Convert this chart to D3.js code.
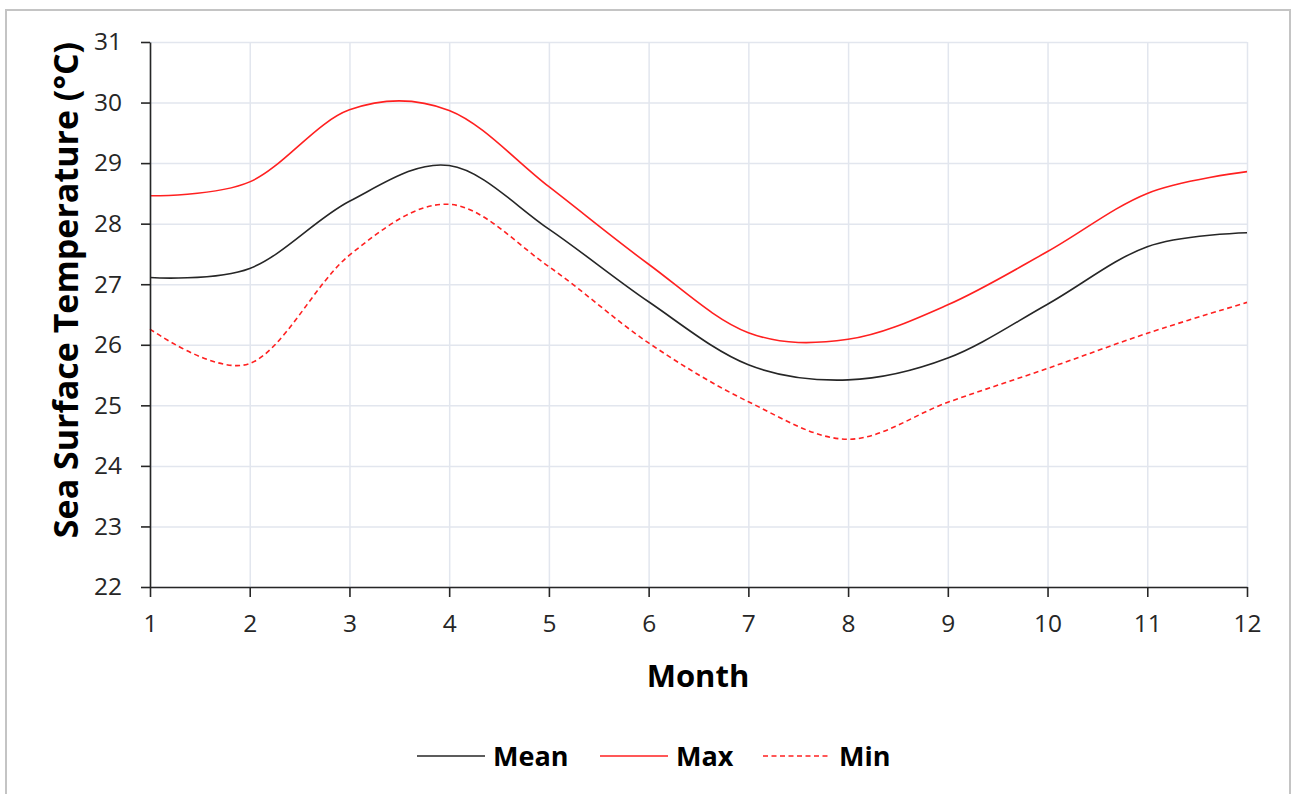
<!DOCTYPE html>
<html>
<head>
<meta charset="utf-8">
<script src="https://cdn.jsdelivr.net/npm/d3@7"></script>
<style>
  html, body { margin: 0; padding: 0; background: #fff; }
  svg { display: block; font-family: "Open Sans", Lato, sans-serif; }
</style>
</head>
<body>
<svg id="chart" width="1291" height="794"></svg>
<script>
// ── Data ────────────────────────────────────────────────────────────────
const months = [1, 2, 3, 4, 5, 6, 7, 8, 9, 10, 11, 12];
const meanSST = [27.11, 27.26, 28.37, 28.96, 27.91, 26.71, 25.67, 25.42, 25.78, 26.67, 27.62, 27.85];
const maxSST  = [28.46, 28.69, 29.88, 29.87, 28.61, 27.33, 26.20, 26.09, 26.66, 27.54, 28.50, 28.86];
const minSST  = [26.26, 25.69, 27.48, 28.32, 27.29, 26.03, 25.06, 24.44, 25.05, 25.61, 26.19, 26.70];
const yTicks  = [22, 23, 24, 25, 26, 27, 28, 29, 30, 31];

const series = [
  { name: 'Mean', values: meanSST, color: '#262626', dash: null },
  { name: 'Max',  values: maxSST,  color: '#ff2020', dash: null },
  { name: 'Min',  values: minSST,  color: '#ff2020', dash: '5,3.5' },
];

// ── Layout ──────────────────────────────────────────────────────────────
const svg = d3.select('#chart');
const X0 = 150, X1 = 1247, Y0 = 587, Y1 = 42;

// chart border (bottom runs off the page)
svg.append('rect')
  .attr('x', 6).attr('y', 10)
  .attr('width', 1284).attr('height', 800)
  .attr('fill', '#fff')
  .attr('stroke', '#c4c4c4')
  .attr('stroke-width', 2);

const x = d3.scaleLinear().domain([1, 12]).range([X0, X1]);
const y = d3.scaleLinear().domain([22, 31]).range([Y0, Y1]);

// ── Gridlines ───────────────────────────────────────────────────────────
svg.append('g')
  .attr('transform', `translate(0,${Y0})`)
  .call(d3.axisBottom(x).tickValues(months).tickSize(-(Y0 - Y1)).tickFormat(''))
  .call(g => g.select('.domain').remove())
  .call(g => g.selectAll('line').attr('stroke', '#e2e6ee').attr('stroke-width', 1.5));

svg.append('g')
  .attr('transform', `translate(${X0},0)`)
  .call(d3.axisLeft(y).tickValues(yTicks).tickSize(-(X1 - X0)).tickFormat(''))
  .call(g => g.select('.domain').remove())
  .call(g => g.selectAll('line').attr('stroke', '#e2e6ee').attr('stroke-width', 1.5));

// ── Lines (Excel-style smoothing ≈ uniform Catmull-Rom) ─────────────────
const line = d3.line()
  .x((d, i) => x(months[i]))
  .y(d => y(d))
  .curve(d3.curveCatmullRom.alpha(0));

svg.append('g').selectAll('path')
  .data(series)
  .join('path')
    .attr('d', d => line(d.values))
    .attr('fill', 'none')
    .attr('stroke', d => d.color)
    .attr('stroke-width', 1.6)
    .attr('stroke-dasharray', d => d.dash);

// ── Axes ────────────────────────────────────────────────────────────────
const axisStyle = g => {
  g.select('.domain').attr('stroke', '#262626').attr('stroke-width', 1.6);
  g.selectAll('.tick line').attr('stroke', '#262626').attr('stroke-width', 1.6);
  g.selectAll('.tick text')
    .attr('fill', '#262626')
    .attr('font-size', 24.5)
    .attr('font-family', '"Open Sans", sans-serif');
};

svg.append('g')
  .attr('transform', `translate(${X0},0)`)
  .call(d3.axisLeft(y).tickValues(yTicks).tickSizeInner(9).tickSizeOuter(0).tickPadding(19))
  .call(axisStyle);

svg.append('g')
  .attr('transform', `translate(0,${Y0})`)
  .call(d3.axisBottom(x).tickValues(months).tickSizeInner(10).tickSizeOuter(0).tickPadding(18))
  .call(axisStyle);

// ── Axis titles ─────────────────────────────────────────────────────────
svg.append('text')
  .attr('x', 698).attr('y', 687)
  .attr('text-anchor', 'middle')
  .attr('font-size', 31).attr('font-weight', 700)
  .attr('fill', '#000')
  .text('Month');

svg.append('text')
  .attr('transform', 'translate(78,290) rotate(-90)')
  .attr('text-anchor', 'middle')
  .attr('font-size', 34).attr('font-weight', 700)
  .attr('fill', '#000')
  .text('Sea Surface Temperature (°C)');

// ── Legend ──────────────────────────────────────────────────────────────
const legendX = [417, 600, 763];
const legend = svg.append('g').selectAll('g')
  .data(series)
  .join('g')
    .attr('transform', (d, i) => `translate(${legendX[i]},756)`);

legend.append('line')
  .attr('x1', 0).attr('x2', 68)
  .attr('stroke', d => d.color)
  .attr('stroke-width', 1.6)
  .attr('stroke-dasharray', d => d.dash);

legend.append('text')
  .attr('x', 76).attr('y', 10)
  .attr('font-size', 27).attr('font-weight', 700)
  .attr('fill', '#000')
  .text(d => d.name);
</script>
</body>
</html>
